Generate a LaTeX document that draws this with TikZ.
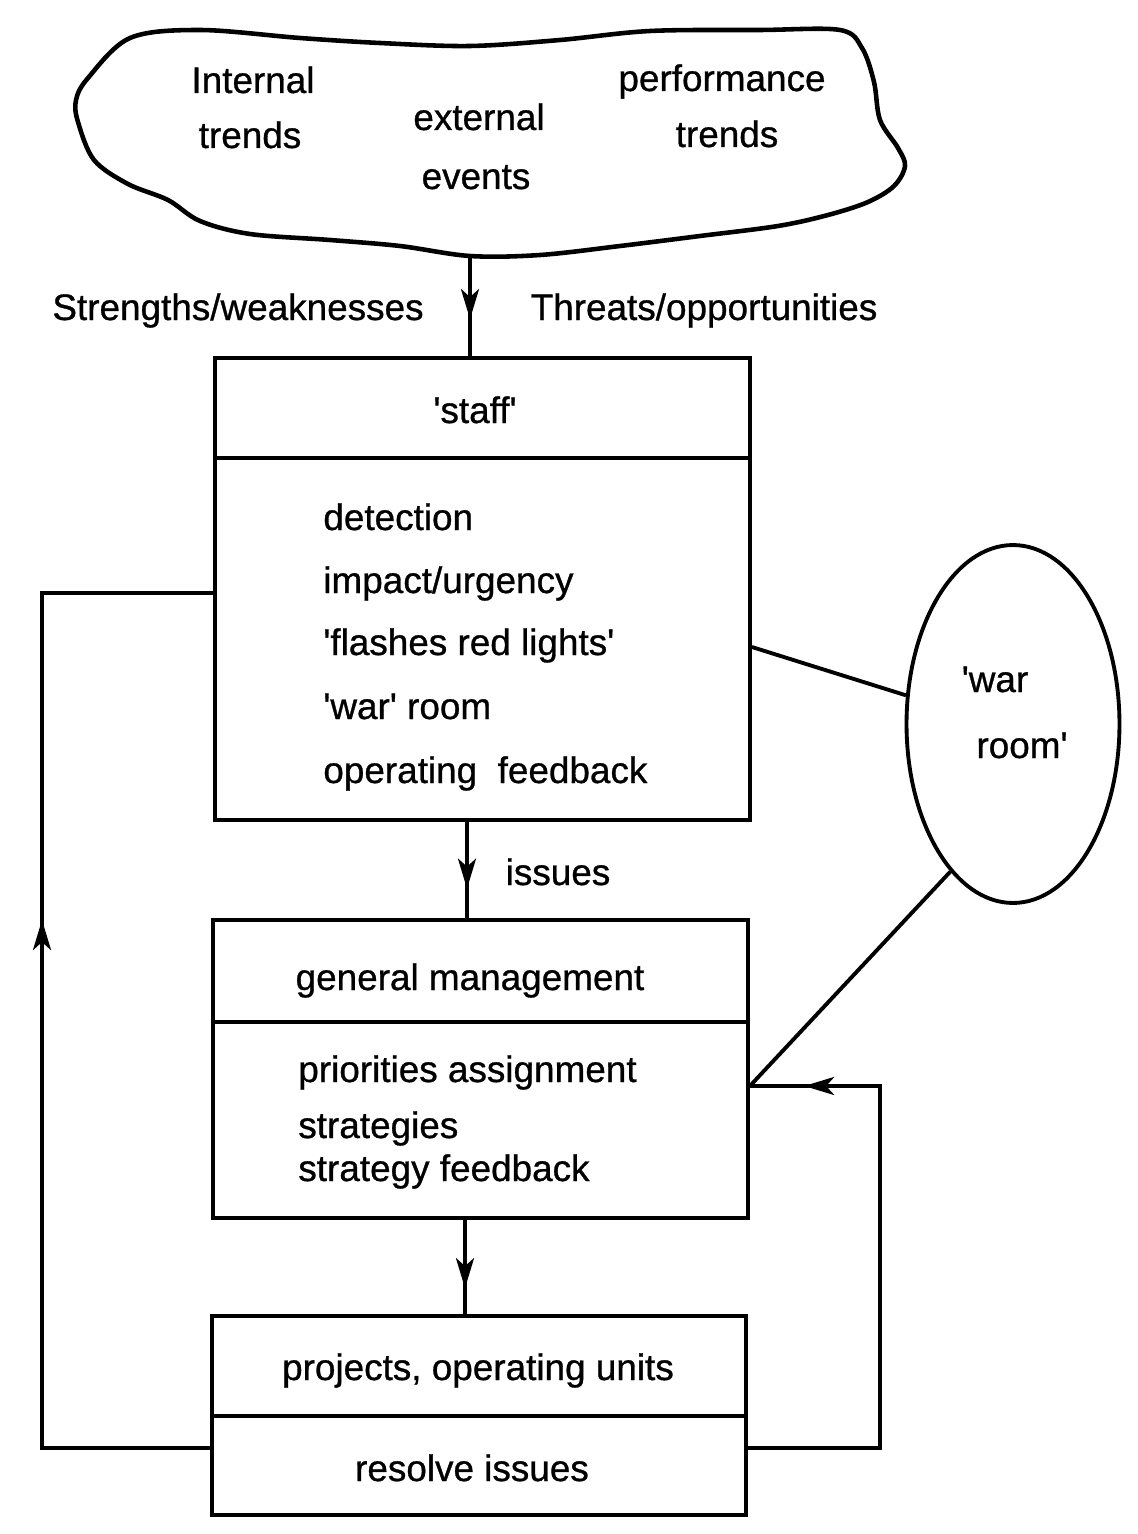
\documentclass[tikz,border=0pt]{standalone}
\usepackage{fontspec}
\setmainfont{Liberation Sans}
\newfontfamily\lbl{Liberation Sans}[FakeBold=0.8]
\usetikzlibrary{arrows.meta,decorations.markings,shapes.geometric}
\newcommand{\sq}{\textquotesingle}
\tikzset{
  ln/.style={line width=2.2pt},
  boxpart/.style={draw,ln,rectangle,inner sep=0pt,minimum width=10.7cm},
  txt/.style={font=\lbl\fontsize{21}{25}\selectfont,inner sep=0pt},
  midarrow/.style={postaction={decorate,decoration={markings,
     mark=at position #1 with {\arrow{Stealth[length=0.6cm,width=0.36cm,inset=0.16cm]}}}}}
}
\begin{document}
\begin{tikzpicture}[x=0.02cm,y=-0.02cm]
\useasboundingbox (0,0) rectangle (1138,1534);

% cloud
\draw[ln,line width=2.6pt,line join=round] plot[smooth cycle,tension=0.55] coordinates {
 (88,78) (130,38) (200,30) (300,38) (380,43) (470,46) (560,40) (650,31)
 (760,30) (840,30) (862,48) (874,82) (880,120) (898,148) (905,166)
 (894,186) (868,202) (828,215) (778,226) (700,236) (620,246) (540,255)
 (470,256) (400,246) (330,240) (250,234) (200,221) (168,200) (128,184)
 (94,160) (78,122) (76,100)};
\coordinate (cloudb) at (470,256);
\node[txt,anchor=base] (c1) at (253,93) {Internal};
\node[txt,anchor=base] (c2) at (250,148) {trends};
\node[txt,anchor=base] (c3) at (479,130) {external};
\node[txt,anchor=base] (c4) at (476,189) {events};
\node[txt,anchor=base] (c5) at (722,91) {performance};
\node[txt,anchor=base] (c6) at (727,147) {trends};

% labels
\node[txt,anchor=base] (sw) at (238,320) {Strengths/weaknesses};
\node[txt,anchor=base] (to) at (704,320) {Threats/opportunities};
\node[txt,anchor=base] (iss) at (558,885) {issues};

% staff box
\node[boxpart,minimum height=2cm] (staffhead) at (482.5,408) {};
\node[boxpart,minimum height=7.24cm] (staffbody) at (482.5,639) {};
\node[txt,anchor=base] (stafft) at (475,423) {\sq staff\sq};
\node[txt,anchor=base west] (s1) at (323,530) {detection};
\node[txt,anchor=base west] (s2) at (323,593) {impact/urgency};
\node[txt,anchor=base west] (s3) at (323,655) {\sq flashes red lights\sq};
\node[txt,anchor=base west] (s4) at (323,719) {\sq war\sq\ room};
\node[txt,anchor=base west] (s5) at (323,783) {operating\ \ feedback};

% general management box
\node[boxpart,minimum height=2.04cm] (gmhead) at (480.5,971) {};
\node[boxpart,minimum height=3.92cm] (gmbody) at (480.5,1120) {};
\node[txt,anchor=base] (gmt) at (470,990) {general management};
\node[txt,anchor=base west] (g1) at (298,1082) {priorities assignment};
\node[txt,anchor=base west] (g2) at (298,1138) {strategies};
\node[txt,anchor=base west] (g3) at (298,1181) {strategy feedback};

% projects box
\node[boxpart,minimum width=10.68cm,minimum height=2cm] (projhead) at (479,1366) {};
\node[boxpart,minimum width=10.68cm,minimum height=1.98cm] (projbody) at (479,1465.5) {};
\node[txt,anchor=base] (pt) at (478,1380) {projects, operating units};
\node[txt,anchor=base] (pr) at (472,1481) {resolve issues};

% war room ellipse
\node[draw,ln,ellipse,inner sep=0pt,minimum width=4.26cm,minimum height=7.16cm] (war) at (1013,724) {};
\node[txt,anchor=base] (w1) at (995,692) {\sq war};
\node[txt,anchor=base] (w2) at (1022,758) {room\sq};

% vertical flow
\draw[ln,midarrow=0.63] (cloudb) -- (cloudb |- staffhead.north);
\coordinate (a2) at (467,820);
\draw[ln,midarrow=0.7] (a2) -- (a2 |- gmhead.north);
\coordinate (a3) at (465,1218);
\draw[ln,midarrow=0.73] (a3) -- (a3 |- projhead.north);

% left loop
\coordinate (L1) at (42,1448);
\coordinate (L2) at (42,593);
\draw[ln] (projbody.west |- L1) -- (L1) -- (L2) -- (staffbody.west |- L2);
\path[ln,midarrow=0.6175] (L1) -- (L2);

% right loop
\coordinate (R1) at (880,1448);
\coordinate (R2) at (880,1086);
\draw[ln] (projbody.east |- R1) -- (R1) -- (R2) -- (gmbody.east |- R2);
\path[ln,midarrow=0.583] (R2) -- (gmbody.east |- R2);

% war room links
\draw[ln] (staffbody.east |- 0,647) -- (war.165);
\draw[ln] (war.247) -- (gmbody.east |- R2);
\end{tikzpicture}
\end{document}
